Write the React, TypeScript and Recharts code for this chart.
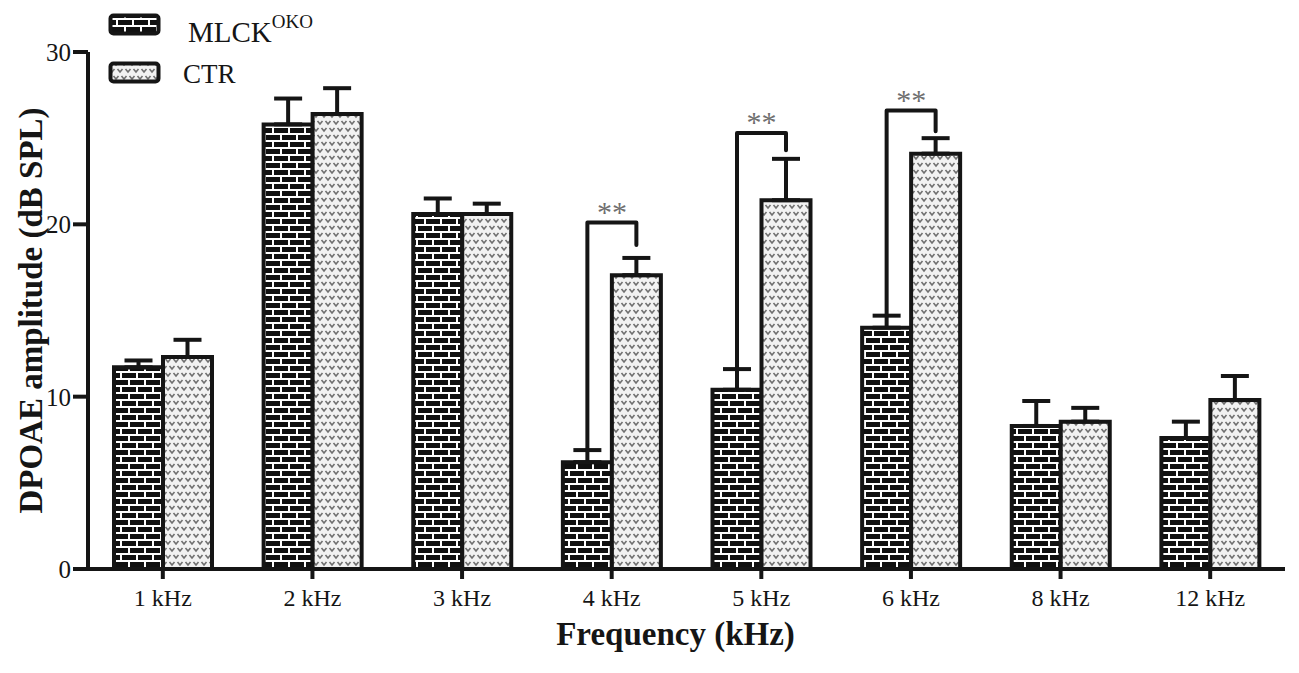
import React from 'react'
import { BarChart, Bar, XAxis, YAxis, ErrorBar, LabelList, Legend } from 'recharts'

const frequencies = ['1 kHz', '2 kHz', '3 kHz', '4 kHz', '5 kHz', '6 kHz', '8 kHz', '12 kHz']
const mlckMean = [11.7, 25.8, 20.6, 6.2, 10.4, 14.0, 8.3, 7.6]
const mlckSem = [0.4, 1.5, 0.9, 0.7, 1.2, 0.7, 1.45, 0.95]
const ctrMean = [12.3, 26.4, 20.6, 17.05, 21.4, 24.1, 8.55, 9.8]
const ctrSem = [1.0, 1.5, 0.6, 1.0, 2.4, 0.9, 0.8, 1.4]
// significance brackets (** p<0.01): top of bracket, and where the right leg stops
const bracketTop = [null, null, null, 20.1, 25.3, 26.6, null, null]
const bracketEnd = [null, null, null, 18.8, 24.3, 25.4, null, null]
const yTicks = [0, 10, 20, 30]

const data = frequencies.map((f, i) => ({
  freq: f,
  mlck: mlckMean[i],
  mlckErr: [0, mlckSem[i]],
  ctr: ctrMean[i],
  ctrErr: [0, ctrSem[i]],
  bracket: bracketTop[i],
}))

const SERIF = '"Liberation Serif", "Times New Roman", serif'
const INK = '#151515'

function renderBracket(props: any) {
  const { index, value } = props
  if (value == null) return null
  const vb = props.viewBox && props.viewBox.width != null ? props.viewBox : props
  const { x, y, width, height } = vb
  const base = y + height
  const ppu = height / mlckMean[index]
  const yOf = (v: number) => base - v * ppu
  const xl = x + width / 2
  const xr = x + width * 1.5
  const yl = yOf(mlckMean[index] + mlckSem[index])
  const yt = yOf(value)
  const yr = yOf(bracketEnd[index] as number)
  return (
    <g key={`br-${index}`}>
      <path
        d={`M${xl},${yl} V${yt} H${xr} V${yr}`}
        fill="none"
        stroke={INK}
        strokeWidth={4}
        strokeLinejoin="round"
        strokeLinecap="round"
      />
      <text
        x={(xl + xr) / 2}
        y={yt - 1}
        textAnchor="middle"
        fontFamily={SERIF}
        fontSize={30}
        fill="#6f6f6f"
      >
        **
      </text>
    </g>
  )
}

function YTitle(props: any) {
  const { viewBox } = props
  const cx = viewBox.x + 31
  const cy = viewBox.y + viewBox.height / 2
  return (
    <text
      x={cx}
      y={cy}
      transform={`rotate(-90 ${cx} ${cy})`}
      textAnchor="middle"
      dominantBaseline="central"
      fontFamily={SERIF}
      fontWeight="bold"
      fontSize={33}
      fill={INK}
    >
      DPOAE amplitude (dB SPL)
    </text>
  )
}

function XTitle(props: any) {
  const { viewBox } = props
  return (
    <text
      x={viewBox.x + viewBox.width / 2 - 11}
      y={645}
      textAnchor="middle"
      fontFamily={SERIF}
      fontWeight="bold"
      fontSize={33}
      fill={INK}
    >
      Frequency (kHz)
    </text>
  )
}

function LegendBox() {
  return (
    <svg width={240} height={82} style={{ display: 'block' }}>
      <rect x={2.5} y={4.5} width={48} height={18} rx={3} fill="url(#brick)" stroke={INK} strokeWidth={4} />
      <text x={80} y={31} fontFamily={SERIF} fontSize={29} fill={INK}>
        MLCK
        <tspan fontSize={19} dy={-14}>OKO</tspan>
      </text>
      <rect x={2.5} y={52.5} width={48} height={18} rx={3} fill="url(#chevron)" stroke={INK} strokeWidth={4} />
      <text x={75} y={72} fontFamily={SERIF} fontSize={27} fill={INK}>
        CTR
      </text>
    </svg>
  )
}

export default function App() {
  return (
    <div style={{ position: 'absolute', left: 0, top: 0, width: 1299, height: 673, background: '#fff' }}>
      <BarChart
        width={1299}
        height={673}
        data={data}
        margin={{ top: 52, right: 14, bottom: 0, left: 0 }}
        barCategoryGap={26}
        barGap={0}
      >
        <defs>
          <pattern id="brick" patternUnits="userSpaceOnUse" width={16} height={14}>
            <rect x={0} y={0} width={16} height={14} fill="#111" />
            <rect x={0} y={0} width={16} height={2} fill="#fff" />
            <rect x={0} y={7} width={16} height={2} fill="#fff" />
            <rect x={0} y={0} width={2} height={7} fill="#fff" />
            <rect x={8} y={7} width={2} height={7} fill="#fff" />
          </pattern>
          <pattern id="chevron" patternUnits="userSpaceOnUse" width={16} height={14}>
            <rect x={0} y={0} width={16} height={14} fill="#f2f2f2" />
            <path
              d="M1.5,2 L4,5 L6.5,2 M9.5,2 L12,5 L14.5,2 M-2.5,9 L0,12 L2.5,9 M5.5,9 L8,12 L10.5,9 M13.5,9 L16,12 L18.5,9"
              fill="none"
              stroke="#707070"
              strokeWidth={1.6}
            />
          </pattern>
        </defs>
        <XAxis
          dataKey="freq"
          height={104}
          axisLine={{ stroke: INK, strokeWidth: 4 }}
          tickLine={{ stroke: INK, strokeWidth: 4 }}
          tickSize={10}
          tickMargin={10}
          tick={{ fontFamily: SERIF, fontSize: 24, fill: INK }}
          interval={0}
          label={<XTitle />}
        />
        <YAxis
          width={88}
          domain={[0, 30]}
          ticks={yTicks}
          axisLine={{ stroke: INK, strokeWidth: 4 }}
          tickLine={{ stroke: INK, strokeWidth: 4 }}
          tickSize={15}
          tickMargin={2}
          tick={{ fontFamily: SERIF, fontSize: 25, fill: INK }}
          label={<YTitle />}
        />
        <Legend
          layout="vertical"
          align="center"
          verticalAlign="middle"
          wrapperStyle={{ position: 'absolute', left: 108, top: 11, width: 240, height: 82 }}
          content={() => <LegendBox />}
        />
        <Bar dataKey="mlck" name="MLCK" fill="url(#brick)" stroke={INK} strokeWidth={4} isAnimationActive={false}>
          <ErrorBar dataKey="mlckErr" width={14} stroke={INK} strokeWidth={4} direction="y" />
          <LabelList dataKey="bracket" content={renderBracket} />
        </Bar>
        <Bar dataKey="ctr" name="CTR" fill="url(#chevron)" stroke={INK} strokeWidth={4} isAnimationActive={false}>
          <ErrorBar dataKey="ctrErr" width={14} stroke={INK} strokeWidth={4} direction="y" />
        </Bar>
      </BarChart>
    </div>
  )
}
